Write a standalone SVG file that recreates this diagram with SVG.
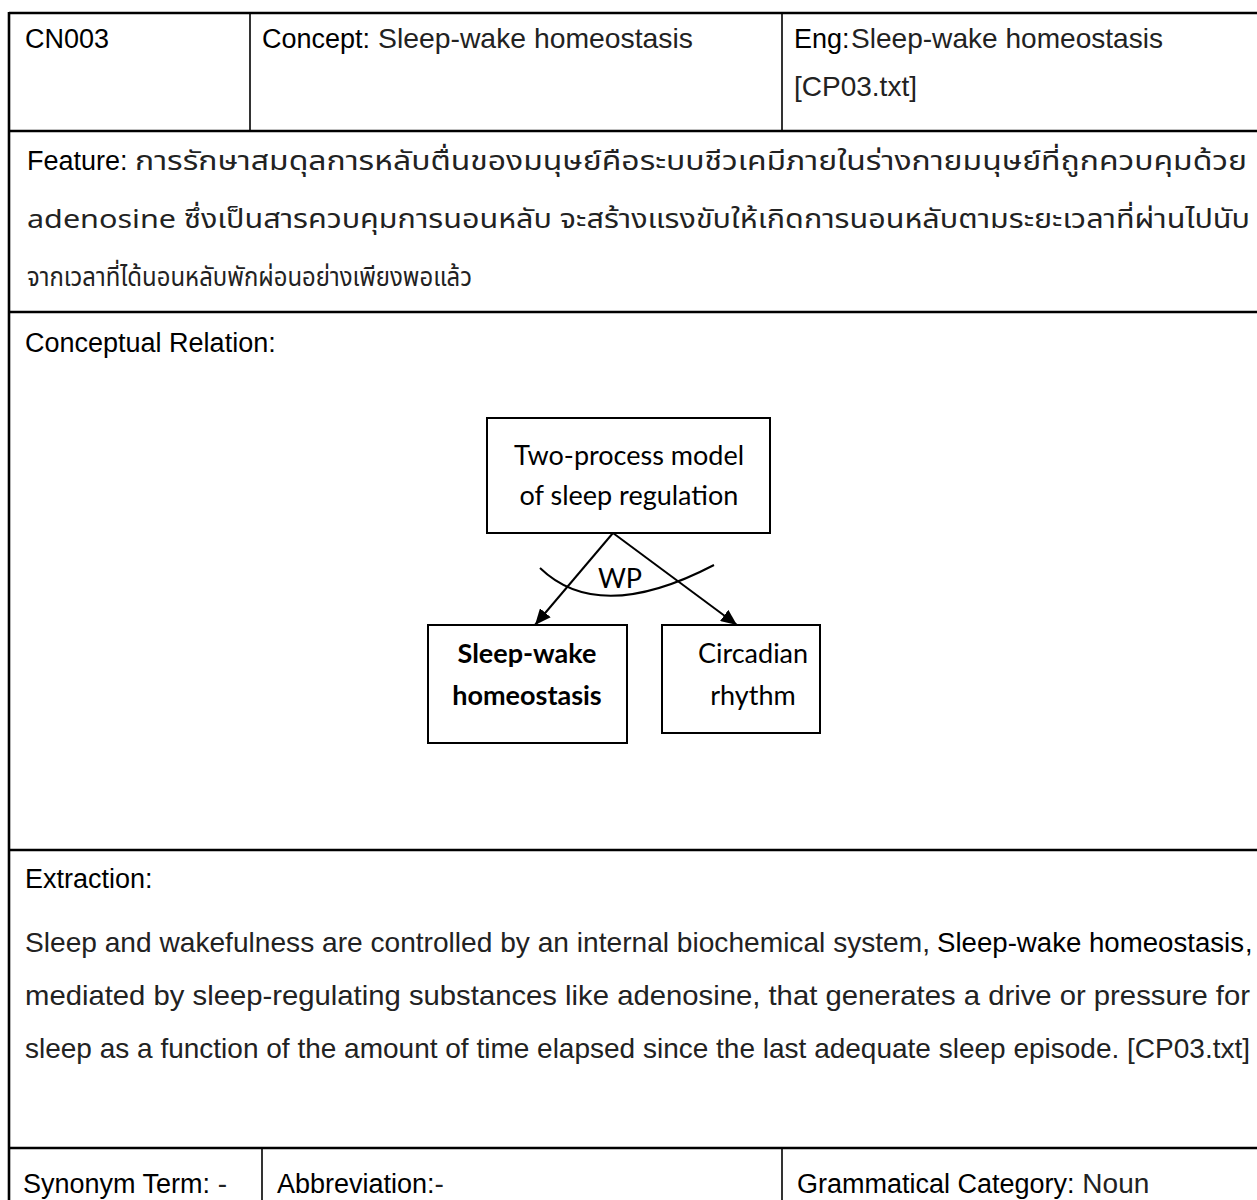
<svg xmlns="http://www.w3.org/2000/svg" width="1257" height="1200" viewBox="0 0 1257 1200">
  <defs>
    <marker id="arrow" viewBox="0 0 10 10" refX="10" refY="5" markerWidth="16" markerHeight="14" markerUnits="userSpaceOnUse" orient="auto" preserveAspectRatio="none">
      <path d="M0,0 L10,5 L0,10 z" fill="#000"/>
    </marker>
    <style>
      .grid { stroke: #000; stroke-width: 2.6; fill: none; }
      .col { stroke: #000; stroke-width: 1.6; fill: none; }
      .lbl { font-family: "Liberation Sans", Arial, sans-serif; font-size: 27px; fill: #000; }
      .val { font-family: "Liberation Sans", Arial, sans-serif; font-size: 28px; fill: #222; }
      .thai { font-family: "Noto Sans Thai", "Liberation Sans", "DejaVu Sans", sans-serif; font-size: 26px; fill: #222; }
      .box { fill: #fff; stroke: #000; stroke-width: 2; }
      .node { font-family: Lato, "Open Sans", sans-serif; font-size: 27px; fill: #000; text-anchor: middle; }
      .bold { font-weight: bold; }
      .edge { stroke: #000; stroke-width: 2; fill: none; }
    </style>
  </defs>

  <!-- table frame -->
  <g id="table">
    <line class="grid" x1="9" y1="13" x2="1257" y2="13"/>
    <line class="grid" x1="9" y1="12" x2="9" y2="1200"/>
    <line class="grid" x1="9" y1="131" x2="1257" y2="131"/>
    <line class="grid" x1="9" y1="312" x2="1257" y2="312"/>
    <line class="grid" x1="9" y1="850" x2="1257" y2="850"/>
    <line class="grid" x1="9" y1="1148" x2="1257" y2="1148"/>
    <line class="col" x1="250" y1="13" x2="250" y2="131"/>
    <line class="col" x1="782" y1="13" x2="782" y2="131"/>
    <line class="col" x1="262" y1="1148" x2="262" y2="1200"/>
    <line class="col" x1="782" y1="1148" x2="782" y2="1200"/>
  </g>

  <!-- header row -->
  <g id="header">
    <text class="lbl" x="25" y="48">CN003</text>
    <text class="lbl" x="262" y="48">Concept:</text>
    <text class="val" x="378" y="48" textLength="315" lengthAdjust="spacingAndGlyphs">Sleep-wake homeostasis</text>
    <text class="lbl" x="794" y="48">Eng:</text>
    <text class="val" x="851" y="48" textLength="312" lengthAdjust="spacingAndGlyphs">Sleep-wake homeostasis</text>
    <text class="val" x="794" y="96">[CP03.txt]</text>
  </g>

  <!-- feature row -->
  <g id="feature">
    <text class="lbl" x="27" y="170">Feature:</text>
    <text class="thai" x="135" y="170" textLength="1112" lengthAdjust="spacingAndGlyphs">การรักษาสมดุลการหลับตื่นของมนุษย์คือระบบชีวเคมีภายในร่างกายมนุษย์ที่ถูกควบคุมด้วย</text>
    <text class="thai" x="27" y="228" textLength="1223" lengthAdjust="spacingAndGlyphs">adenosine ซึ่งเป็นสารควบคุมการนอนหลับ จะสร้างแรงขับให้เกิดการนอนหลับตามระยะเวลาที่ผ่านไปนับ</text>
    <text class="thai" x="27" y="286" textLength="445" lengthAdjust="spacingAndGlyphs">จากเวลาที่ได้นอนหลับพักผ่อนอย่างเพียงพอแล้ว</text>
  </g>

  <!-- conceptual relation row -->
  <text class="lbl" x="25" y="352">Conceptual Relation:</text>

  <g id="connectors">
    <line class="edge" x1="613" y1="533" x2="535" y2="625" marker-end="url(#arrow)"/>
    <line class="edge" x1="613" y1="533" x2="737" y2="625" marker-end="url(#arrow)"/>
    <path class="edge" d="M540,568 Q599,625 714,565"/>
    <text class="node" x="620" y="588">WP</text>
  </g>

  <g id="node-two-process">
    <rect class="box" x="487" y="418" width="283" height="115"/>
    <text class="node" x="629" y="465">Two-process model</text>
    <text class="node" x="629" y="505">of sleep regulation</text>
  </g>

  <g id="node-sleep-wake">
    <rect class="box" x="428" y="625" width="199" height="118"/>
    <text class="node bold" x="527" y="663">Sleep-wake</text>
    <text class="node bold" x="527" y="705">homeostasis</text>
  </g>

  <g id="node-circadian">
    <rect class="box" x="662" y="625" width="158" height="108"/>
    <text class="node" x="753" y="663">Circadian</text>
    <text class="node" x="753" y="705">rhythm</text>
  </g>

  <!-- extraction row -->
  <g id="extraction">
    <text class="lbl" x="25" y="888">Extraction:</text>
    <text class="val" x="25" y="952" textLength="905" lengthAdjust="spacingAndGlyphs">Sleep and wakefulness are controlled by an internal biochemical system,</text>
    <text class="lbl" x="937" y="952" textLength="307" lengthAdjust="spacingAndGlyphs">Sleep-wake homeostasis</text>
    <text class="lbl" x="1245" y="952">,</text>
    <text class="val" x="25" y="1005" textLength="1225" lengthAdjust="spacingAndGlyphs">mediated by sleep-regulating substances like adenosine, that generates a drive or pressure for</text>
    <text class="val" x="25" y="1058" textLength="1225" lengthAdjust="spacingAndGlyphs">sleep as a function of the amount of time elapsed since the last adequate sleep episode. [CP03.txt]</text>
  </g>

  <!-- bottom row -->
  <g id="footer">
    <text x="23" y="1193"><tspan class="lbl">Synonym Term:</tspan><tspan class="val"> -</tspan></text>
    <text x="277" y="1193"><tspan class="lbl">Abbreviation:</tspan><tspan class="val">-</tspan></text>
    <text x="797" y="1193"><tspan class="lbl">Grammatical Category:</tspan><tspan class="val"> Noun</tspan></text>
  </g>
</svg>
